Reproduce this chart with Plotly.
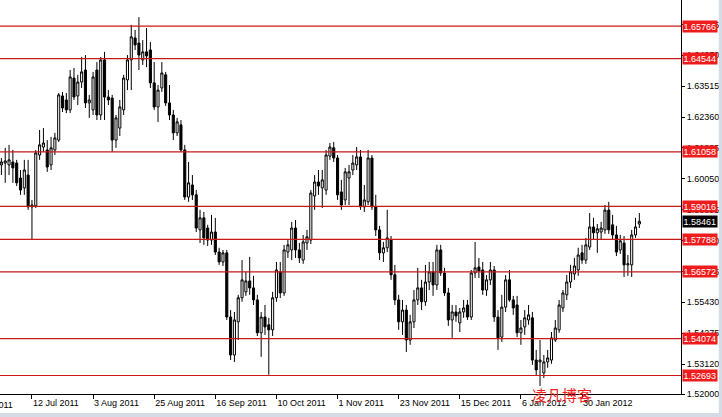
import pandas as pd
import plotly.graph_objects as go

# ---------------- data (GBP/USD daily) ----------------
open_ = [1.6057,1.6064,1.6057,1.6068,1.6064,1.6008,1.5971,1.6019,1.5900,1.5904,
         1.6094,1.6124,1.6113,1.6057,1.6113,1.6150,1.6315,1.6300,1.6263,1.6382,
         1.6315,1.6367,1.6412,1.6289,1.6263,1.6412,1.6244,1.6450,1.6311,1.6307,
         1.6150,1.6195,1.6263,1.6375,1.6450,1.6532,1.6513,1.6450,1.6480,1.6487,
         1.6364,1.6274,1.6345,1.6394,1.6289,1.6244,1.6177,1.6207,1.6113,1.5937,
         1.5982,1.5945,1.5814,1.5859,1.5821,1.5776,1.5806,1.5731,1.5694,1.5728,
         1.5488,1.5346,1.5470,1.5560,1.5582,1.5623,1.5597,1.5552,1.5429,1.5488,
         1.5459,1.5440,1.5560,1.5657,1.5578,1.5731,1.5739,1.5821,1.5739,1.5701,
         1.5765,1.5776,1.5941,1.5993,1.5971,1.5963,1.6090,1.6121,1.6083,1.5956,
         1.5926,1.6008,1.6038,1.6057,1.6087,1.5900,1.5919,1.6083,1.5900,1.5814,
         1.5728,1.5747,1.5776,1.5646,1.5552,1.5470,1.5514,1.5402,1.5470,1.5552,
         1.5597,1.5545,1.5619,1.5657,1.5608,1.5739,1.5653,1.5578,1.5477,1.5507,
         1.5466,1.5507,1.5533,1.5488,1.5653,1.5675,1.5664,1.5589,1.5627,1.5664,
         1.5488,1.5413,1.5525,1.5627,1.5552,1.5533,1.5429,1.5451,1.5477,1.5485,
         1.5327,1.5320,1.5279,1.5320,1.5327,1.5402,1.5440,1.5522,1.5571,1.5619,
         1.5649,1.5664,1.5728,1.5701,1.5750,1.5825,1.5803,1.5806,1.5814,1.5888,
         1.5833,1.5795,1.5739,1.5765,1.5683,1.5683,1.5795,1.5836]
high = [1.6083,1.6121,1.6132,1.6113,1.6076,1.6038,1.6076,1.6076,1.5926,1.6113,
        1.6188,1.6195,1.6150,1.6162,1.6177,1.6326,1.6330,1.6326,1.6412,1.6420,
        1.6394,1.6461,1.6468,1.6319,1.6405,1.6442,1.6461,1.6480,1.6337,1.6319,
        1.6244,1.6300,1.6394,1.6468,1.6581,1.6562,1.6610,1.6524,1.6569,1.6517,
        1.6442,1.6356,1.6442,1.6405,1.6356,1.6263,1.6233,1.6225,1.6132,1.6068,
        1.6019,1.5963,1.5889,1.5881,1.5833,1.5870,1.5859,1.5747,1.5739,1.5739,
        1.5514,1.5507,1.5571,1.5701,1.5657,1.5713,1.5642,1.5571,1.5507,1.5533,
        1.5485,1.5582,1.5694,1.5694,1.5758,1.5776,1.5844,1.5851,1.5765,1.5795,
        1.5814,1.5963,1.6019,1.6038,1.6038,1.6113,1.6139,1.6143,1.6094,1.6001,
        1.6046,1.6057,1.6094,1.6124,1.6113,1.5982,1.6113,1.6094,1.5945,1.5829,
        1.5769,1.5889,1.5791,1.5683,1.5571,1.5552,1.5533,1.5496,1.5589,1.5672,
        1.5627,1.5683,1.5694,1.5694,1.5758,1.5758,1.5672,1.5597,1.5533,1.5533,
        1.5522,1.5552,1.5552,1.5664,1.5769,1.5709,1.5694,1.5645,1.5694,1.5679,
        1.5514,1.5571,1.5645,1.5664,1.5567,1.5567,1.5477,1.5514,1.5533,1.5507,
        1.5365,1.5402,1.5346,1.5365,1.5432,1.5477,1.5552,1.5589,1.5645,1.5683,
        1.5709,1.5747,1.5758,1.5784,1.5877,1.5859,1.5836,1.5844,1.5907,1.5919,
        1.5870,1.5829,1.5795,1.5791,1.5720,1.5814,1.5859,1.5877]
low = [1.6019,1.5990,1.6019,1.5990,1.5978,1.5945,1.5945,1.5889,1.5776,1.5896,
       1.6076,1.6106,1.6031,1.6038,1.6094,1.6143,1.6255,1.6251,1.6251,1.6300,
       1.6281,1.6345,1.6270,1.6233,1.6244,1.6225,1.6225,1.6225,1.6281,1.6106,
       1.6121,1.6165,1.6244,1.6337,1.6337,1.6487,1.6412,1.6431,1.6423,1.6345,
       1.6263,1.6218,1.6330,1.6278,1.6225,1.6150,1.6165,1.6106,1.5926,1.5919,
       1.5926,1.5806,1.5765,1.5758,1.5754,1.5758,1.5720,1.5683,1.5679,1.5477,
       1.5327,1.5320,1.5402,1.5545,1.5567,1.5571,1.5533,1.5417,1.5339,1.5421,
       1.5272,1.5417,1.5545,1.5559,1.5567,1.5709,1.5701,1.5709,1.5690,1.5687,
       1.5739,1.5761,1.5889,1.5945,1.5896,1.5945,1.6076,1.6068,1.5926,1.5889,
       1.5907,1.5907,1.6019,1.6038,1.5889,1.5881,1.5907,1.5889,1.5791,1.5701,
       1.5694,1.5731,1.5627,1.5533,1.5440,1.5421,1.5357,1.5384,1.5447,1.5533,
       1.5514,1.5530,1.5589,1.5567,1.5589,1.5642,1.5567,1.5455,1.5410,1.5470,
       1.5432,1.5485,1.5477,1.5477,1.5634,1.5634,1.5571,1.5567,1.5608,1.5470,
       1.5365,1.5395,1.5507,1.5545,1.5496,1.5413,1.5384,1.5421,1.5459,1.5309,
       1.5268,1.5230,1.5260,1.5298,1.5313,1.5395,1.5429,1.5507,1.5552,1.5597,
       1.5627,1.5642,1.5687,1.5687,1.5739,1.5776,1.5728,1.5776,1.5799,1.5799,
       1.5776,1.5716,1.5724,1.5638,1.5642,1.5638,1.5784,1.5821]
close = [1.6068,1.6072,1.6076,1.6046,1.5990,1.5963,1.6038,1.5900,1.5907,1.6102,
         1.6132,1.6139,1.6049,1.6121,1.6158,1.6319,1.6270,1.6263,1.6386,1.6311,
         1.6367,1.6405,1.6289,1.6300,1.6386,1.6244,1.6450,1.6311,1.6300,1.6150,
         1.6233,1.6274,1.6382,1.6450,1.6536,1.6506,1.6468,1.6480,1.6465,1.6364,
         1.6274,1.6337,1.6401,1.6289,1.6244,1.6177,1.6218,1.6113,1.5937,1.5990,
         1.5945,1.5821,1.5859,1.5784,1.5776,1.5806,1.5731,1.5694,1.5728,1.5488,
         1.5346,1.5477,1.5560,1.5627,1.5623,1.5597,1.5552,1.5429,1.5488,1.5451,
         1.5440,1.5560,1.5664,1.5578,1.5739,1.5758,1.5821,1.5739,1.5709,1.5769,
         1.5788,1.5952,1.5993,1.5978,1.6001,1.6094,1.6124,1.6083,1.5945,1.5907,
         1.6031,1.6031,1.6064,1.6087,1.5900,1.5926,1.6083,1.5900,1.5814,1.5728,
         1.5747,1.5784,1.5646,1.5552,1.5470,1.5514,1.5402,1.5470,1.5552,1.5597,
         1.5545,1.5619,1.5657,1.5608,1.5739,1.5653,1.5578,1.5477,1.5507,1.5492,
         1.5507,1.5522,1.5488,1.5653,1.5672,1.5660,1.5589,1.5627,1.5664,1.5488,
         1.5410,1.5525,1.5627,1.5552,1.5522,1.5429,1.5447,1.5485,1.5496,1.5327,
         1.5290,1.5327,1.5320,1.5335,1.5410,1.5447,1.5533,1.5578,1.5619,1.5657,
         1.5679,1.5720,1.5701,1.5758,1.5825,1.5803,1.5818,1.5821,1.5888,1.5814,
         1.5795,1.5731,1.5773,1.5683,1.5687,1.5795,1.5825,1.58461]

levels = [1.65766, 1.64544, 1.61058, 1.59016, 1.57788, 1.56572, 1.54074, 1.52693]
price_ticks = [1.52000, 1.53120, 1.54275, 1.55430, 1.56585, 1.57740, 1.58895,
               1.60050, 1.61205, 1.62360, 1.63515, 1.64670, 1.65825]

# trading-day calendar (MT4 style: weekends skipped); date ticks every 16 bars
calendar = pd.bdate_range("2011-06-20", "2012-02-20")
first_bar = pd.Timestamp("2011-06-30")
offset = list(calendar).index(first_bar)
xpos = list(range(offset, offset + len(close)))
tick_pos = list(range(0, len(calendar), 16))
tick_text = [f"{calendar[i].day} {calendar[i].strftime('%b %Y')}" for i in tick_pos]

FONT = "Liberation Sans, Arial, sans-serif"

n_px = 681.0
bar_px = 3.82
x0 = offset - 1.4 / bar_px
x1 = x0 + n_px / bar_px

fig = go.Figure(go.Candlestick(
    x=xpos, open=open_, high=high, low=low, close=close,
    increasing=dict(line=dict(color="black", width=1), fillcolor="white"),
    decreasing=dict(line=dict(color="black", width=1), fillcolor="black"),
    whiskerwidth=0, showlegend=False, hoverinfo="skip"))

shapes = []
for lv in levels:
    shapes.append(dict(type="line", xref="paper", x0=0, x1=1, yref="y", y0=lv, y1=lv,
                       line=dict(color="#c81818", width=1.2), layer="above"))
# window chrome strips (right and bottom)
shapes.append(dict(type="rect", xref="paper", yref="paper", x0=1.0555, x1=1.07, y0=-0.07, y1=1.01,
                   fillcolor="#d6dce6", line=dict(width=0), layer="above"))
shapes.append(dict(type="rect", xref="paper", yref="paper", x0=-0.01, x1=1.07, y0=-0.07, y1=-0.0482,
                   fillcolor="#d6dce6", line=dict(width=0), layer="above"))

annotations = []
for lv in levels:
    annotations.append(dict(x=1, xref="paper", y=lv, yref="y", xanchor="left", yanchor="middle",
                            text=f"{lv:.5f}", showarrow=False, bgcolor="#ee1c1c",
                            font=dict(family=FONT, size=9, color="white"), borderpad=0.5, xshift=1))
annotations.append(dict(x=1, xref="paper", y=close[-1], yref="y", xanchor="left", yanchor="middle",
                        text=f"{close[-1]:.5f}", showarrow=False, bgcolor="black",
                        font=dict(family=FONT, size=9, color="white"), borderpad=0.5, xshift=1))
# the partially hidden first date label on the left (its tick lies left of the visible range)
annotations.append(dict(x=(tick_pos[0] - x0) / (x1 - x0), xref="paper", y=0, yref="paper",
                        xanchor="left", yanchor="top", text=tick_text[0], showarrow=False,
                        yshift=-4, xshift=-9, font=dict(family=FONT, size=9, color="black")))
# watermark
annotations.append(dict(x=0.825, xref="paper", y=-0.0, yref="paper", xanchor="center", yanchor="middle",
                        text="凌凡博客", showarrow=False,
                        font=dict(family="Noto Sans CJK SC", size=15, color="#f02020")))

fig.update_layout(
    width=722, height=417,
    margin=dict(l=0, r=41, t=0, b=23),
    paper_bgcolor="white", plot_bgcolor="white",
    boxgap=0.22,
    shapes=shapes, annotations=annotations,
    font=dict(family=FONT, size=9, color="black"),
    xaxis=dict(range=[x0, x1], rangeslider=dict(visible=False), showgrid=False, zeroline=False,
               tickmode="array", tickvals=tick_pos[1:], ticktext=tick_text[1:],
               ticks="outside", ticklen=4, tickcolor="black", ticklabelposition="outside right",
               showline=True, linecolor="black", linewidth=1,
               tickfont=dict(family=FONT, size=9, color="black")),
    yaxis=dict(range=[1.52, 1.6674], side="right", showgrid=False, zeroline=False,
               tickmode="array", tickvals=price_ticks, ticktext=[f"{v:.5f}" for v in price_ticks],
               ticks="outside", ticklen=3, tickcolor="black",
               showline=True, linecolor="black", linewidth=1,
               tickfont=dict(family=FONT, size=9, color="black")),
)

fig.write_html("out.html", config={"displayModeBar": False},
               post_script="document.body.style.margin='0px';")
